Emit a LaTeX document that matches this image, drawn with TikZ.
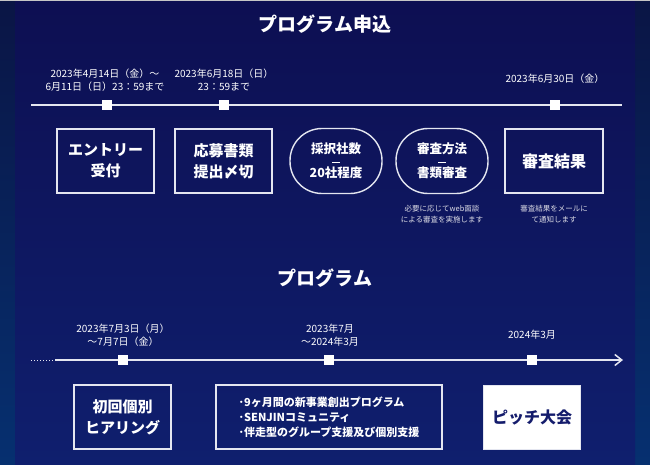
\documentclass[tikz,border=0pt]{standalone}
\usepackage{fontspec}
\setmainfont{Noto Sans CJK JP}
\usepackage{tikz}
\usetikzlibrary{arrows.meta}
\definecolor{navytop}{HTML}{0D0F52}
\definecolor{navybot}{HTML}{0F1F6E}
\definecolor{edgetop}{HTML}{0A1545}
\definecolor{edgebot}{HTML}{063070}
\definecolor{lineclr}{HTML}{E4E6F0}
\definecolor{pitchclr}{HTML}{141C6C}

\begin{document}
\begin{tikzpicture}[x=1pt,y=-1pt,
  heading/.style={text=white,font=\fontsize{19}{19}\selectfont\bfseries},
  datelbl/.style={text=white,align=center,font=\fontsize{10}{13}\selectfont},
  notelbl/.style={text=white!85!navytop,align=center,font=\fontsize{7.5}{11}\selectfont},
  tline/.style={draw=lineclr,line width=1.5pt},
  sq/.style={shape=rectangle,fill=white,minimum size=10pt,inner sep=0pt},
  stepbox/.style={shape=rectangle,draw=lineclr,line width=1.4pt,text=white,align=center,minimum height=64pt,font=\fontsize{15}{21}\selectfont\bfseries},
  pill/.style={shape=rectangle,rounded corners=32pt,draw=lineclr,line width=1.4pt,text=white,align=center,minimum width=92pt,minimum height=65pt,font=\fontsize{12.5}{12}\selectfont\bfseries}]
\useasboundingbox (0,0) rectangle (650,465);
% background
\shade[top color=edgetop,bottom color=edgebot] (0,0) rectangle (650,465);
\shade[top color=navytop,bottom color=navybot] (15,0) rectangle (635,465);
\fill[gray!45] (0,0) rectangle (650,1.2);

% application
\node(apply)[heading] at (325,24){プログラム申込};
\coordinate(ta) at (31,105);
\coordinate(tb) at (622,105);
\draw[tline] (ta)--(tb);
\node(d1)[sq] at (107,105){};
\node(d2)[sq] at (224,105){};
\node(d3)[sq] at (555,105){};
\node(l1)[datelbl] at (105,80){2023年4月14日（金）～\\6月11日（日）23：59まで};
\node(l2)[datelbl] at (224,80){2023年6月18日（日）\\23：59まで};
\node(l3)[datelbl] at (555,79){2023年6月30日（金）};
\node(entry)[stepbox,minimum width=97pt] at (105.5,161){エントリー\\受付};
\node(docs)[stepbox,minimum width=97pt] at (223.5,161){応募書類\\提出〆切};
\node(count)[pill] at (336,161){採択社数\\\rule[3pt]{8pt}{0.6pt}\\20社程度};
\node(method)[pill] at (442,161){審査方法\\\rule[3pt]{8pt}{0.6pt}\\書類審査};
\node(result)[stepbox,minimum width=98pt,font=\fontsize{16}{20}\selectfont\bfseries] at (554,161){審査結果};
\node(n1)[notelbl] at (442,214){必要に応じてweb面談\\による審査を実施します};
\node(n2)[notelbl] at (554,214){審査結果をメールに\\て通知します};

% program
\node(program)[heading] at (325,278){プログラム};
\coordinate(ua) at (31,360);
\coordinate(ub) at (55,360);
\coordinate(uc) at (623,360);
\draw[tline,line width=1pt,dotted] (ua)--(ub);
\draw[tline,->,>={Straight Barb[length=7pt,width=11pt]}] (ub)--(uc);
\node(e1)[sq] at (123,360){};
\node(e2)[sq] at (329,360){};
\node(e3)[sq] at (532,360){};
\node(k1)[datelbl] at (123,335){2023年7月3日（月）\\～7月7日（金）};
\node(k2)[datelbl] at (330,335){2023年7月\\～2024年3月};
\node(k3)[datelbl] at (532,335){2024年3月};
\node(hearing)[stepbox,minimum width=97pt] at (122.5,417){初回個別\\ヒアリング};
\node(course)[stepbox,minimum width=226pt,align=left,font=\fontsize{11}{15}\selectfont\bfseries] at (329,417){･9ヶ月間の新事業創出プログラム\\･SENJINコミュニティ\\･伴走型のグループ支援及び個別支援};
\node(pitch)[stepbox,fill=white,text=pitchclr,minimum width=97pt,font=\fontsize{16}{20}\selectfont\bfseries] at (532,417.5){ピッチ大会};
\end{tikzpicture}
\end{document}
